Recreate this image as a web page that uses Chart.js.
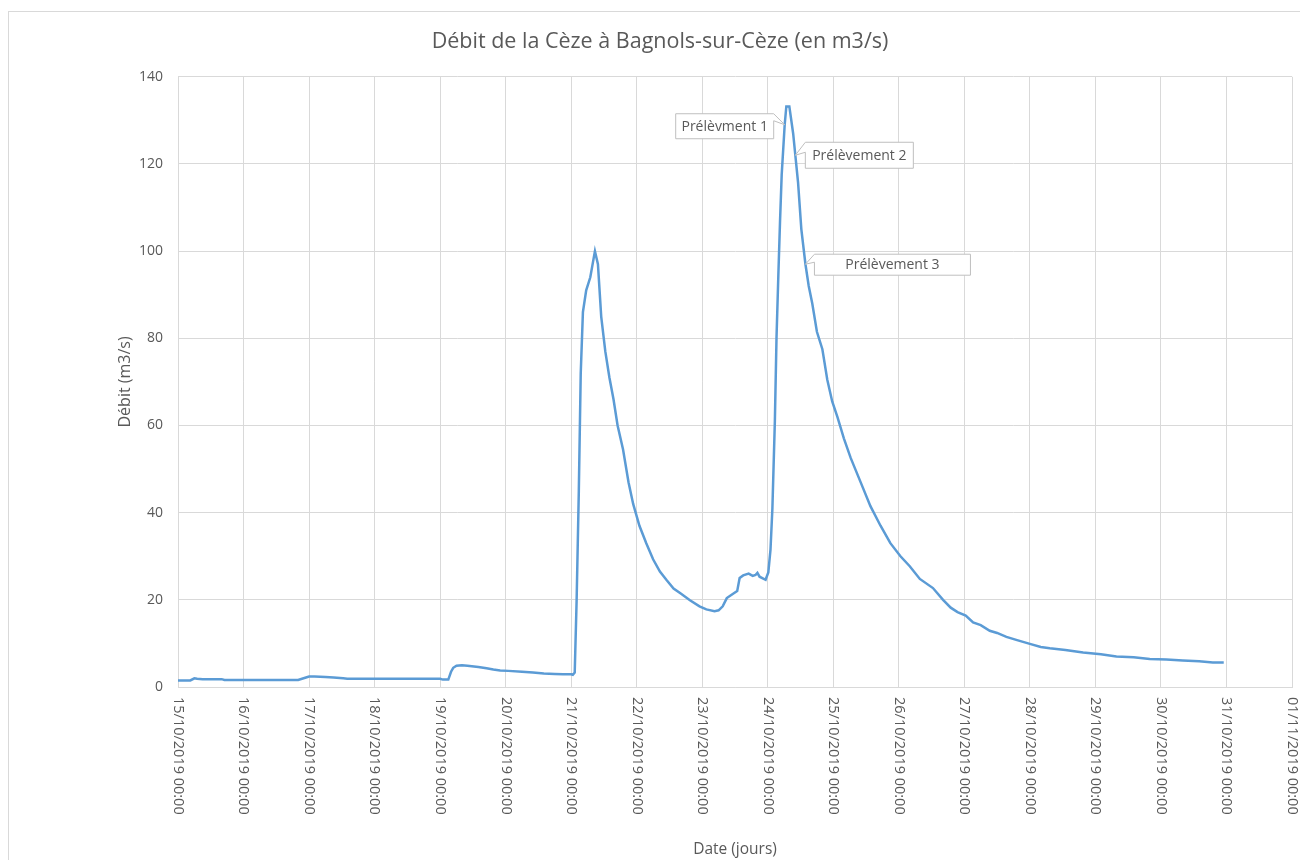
<!DOCTYPE html>
<html>
<head>
<meta charset="utf-8">
<script src="https://cdn.jsdelivr.net/npm/chart.js@4.4.1/dist/chart.umd.min.js"></script>
<style>
html,body{margin:0;padding:0;background:#fff;overflow:hidden;width:1300px;height:860px;}
#frame{position:absolute;left:8px;top:11px;width:1304px;height:860px;border:1px solid #d9d9d9;box-sizing:border-box;}
#wrap{position:absolute;left:9px;top:12px;width:1302px;height:848px;}
</style>
</head>
<body>
<div id="frame"></div>
<div id="wrap"><canvas id="c"></canvas></div>
<script>
// ---- DATA ----
const chartTitle = 'Débit de la Cèze à Bagnols-sur-Cèze (en m3/s)';
const xTitle = 'Date (jours)';
const yTitle = 'Débit (m3/s)';

// hours elapsed since 15/10/2019 00:00
const hours = [
  0, 3, 4.5, 6, 7, 9, 16, 17, 30, 44, 46, 48, 50, 54, 57, 60.5, 62, 96, 97, 99,
  100, 100.8, 102, 104, 106, 110, 113, 115.5, 118, 121, 126, 130, 134, 138, 141, 144, 144.6, 145.3,
  146, 146.8, 147.5, 148.3, 149.5, 151, 152.7, 153.8, 155, 156.5, 158, 159.5, 161, 163, 165, 166.7,
  169, 171.5, 174, 176.5, 179, 181.5, 184, 187.5, 191, 193.5, 196.5, 198, 199.5, 201, 203.3, 204.8,
  205.7, 207, 209, 210.5, 211.5, 212.2, 213, 215.2, 216.2, 217, 217.7, 218.6, 219.2, 219.9, 220.5,
  221.1, 222.2, 222.8, 223.9, 225.3, 226.1, 227.1, 228.3, 229.8, 231, 232.3, 234, 236, 237.8, 239.6,
  241.5, 243.9, 246.4, 250, 253.6, 257.3, 260.9, 264.6, 268, 271.7, 276.5, 280.2, 283, 285.5, 288.5,
  291.2, 294, 297.3, 300, 303.4, 307, 312, 316, 319.3, 325, 331.5, 338, 343.7, 350, 355.9, 362, 368,
  374, 379, 383
];
const flows = [
  1.5, 1.5, 1.5, 2.0, 1.9, 1.8, 1.8, 1.6, 1.6, 1.6, 2.0, 2.4, 2.4, 2.3, 2.2, 2.0, 1.9, 1.9, 1.7, 1.7,
  3.5, 4.4, 4.9, 5.0, 4.9, 4.6, 4.3, 4.0, 3.8, 3.7, 3.5, 3.3, 3.1, 3.0, 2.9, 2.9, 2.8, 3.3,
  20, 45, 72, 86, 91, 94, 100, 97, 85, 77, 71, 66, 60, 54.5, 47, 42,
  37, 33, 29.3, 26.5, 24.5, 22.6, 21.5, 19.9, 18.5, 17.8, 17.4, 17.6, 18.5, 20.4, 21.4, 22.0,
  25.0, 25.6, 26.0, 25.5, 25.7, 26.2, 25.3, 24.6, 26.3, 31.5, 41, 61, 80, 95, 107,
  117.5, 129, 133.2, 133.2, 127, 122, 115.7, 105, 97, 92, 88, 81.5, 77.5, 70.5, 65.5,
  62, 57, 52.5, 47, 41.5, 37, 33, 30, 27.7, 24.8, 22.7, 20, 18.2, 17.2, 16.4,
  14.8, 14.2, 12.9, 12.4, 11.5, 10.8, 9.9, 9.2, 8.9, 8.5, 7.9, 7.5, 7.0, 6.8, 6.4, 6.3, 6.1,
  5.9, 5.6, 5.6
];

// x tick labels (one per day, every 24 h)
const dayLabels = [
  '15/10/2019 00:00','16/10/2019 00:00','17/10/2019 00:00','18/10/2019 00:00','19/10/2019 00:00',
  '20/10/2019 00:00','21/10/2019 00:00','22/10/2019 00:00','23/10/2019 00:00','24/10/2019 00:00',
  '25/10/2019 00:00','26/10/2019 00:00','27/10/2019 00:00','28/10/2019 00:00','29/10/2019 00:00',
  '30/10/2019 00:00','31/10/2019 00:00','01/11/2019 00:00'
];

// sampling callouts
const sampleLabels = ['Prélèvment 1', 'Prélèvement 2', 'Prélèvement 3'];
const sampleHours = [222.2, 226.1, 229.8];
const sampleFlows = [129, 122, 97];

// ---- STYLE ----
const TEXT = '#595959';
const GRID = '#d9d9d9';
const FONT = "'Open Sans', 'Liberation Sans', sans-serif";

const pts = hours.map((h, i) => ({x: h, y: flows[i]}));

const xLabelPlugin = {
  id: 'xLabels',
  afterDraw(chart) {
    const sc = chart.scales.x, ctx = chart.ctx, area = chart.chartArea;
    ctx.save();
    ctx.fillStyle = TEXT;
    ctx.font = "14.5px " + FONT;
    ctx.textAlign = 'left';
    ctx.textBaseline = 'middle';
    sc.ticks.forEach(t => {
      const idx = Math.round(t.value / 24);
      const lbl = dayLabels[idx];
      if (lbl === undefined) return;
      const px = sc.getPixelForValue(t.value);
      ctx.save();
      ctx.translate(px, area.bottom + 10);
      ctx.rotate(Math.PI / 2);
      ctx.fillText(lbl, 0, 0);
      ctx.restore();
    });
    ctx.restore();
  }
};

// box geometry relative to the tip: [left, right, top, bottom, wedge side, wedge start, wedge end]
const calloutGeom = [
  [-109, -11, -11, 14, 'right', 0, 7],
  [10, 118, -13, 13, 'left', 0, 10],
  [9, 165, -10, 11, 'left', 0, 8]
];

const calloutPlugin = {
  id: 'callouts',
  afterDatasetsDraw(chart) {
    const ctx = chart.ctx, xs = chart.scales.x, ys = chart.scales.y;
    ctx.save();
    sampleLabels.forEach((lbl, i) => {
      const tx = xs.getPixelForValue(sampleHours[i]);
      const ty = ys.getPixelForValue(sampleFlows[i]);
      const g = calloutGeom[i];
      const L = tx + g[0], R = tx + g[1], T = ty + g[2], B = ty + g[3];
      ctx.beginPath();
      if (g[4] === 'right') {
        ctx.moveTo(L, T); ctx.lineTo(R, T);
        ctx.lineTo(R, T + g[5]); ctx.lineTo(tx, ty); ctx.lineTo(R, T + g[6]);
        ctx.lineTo(R, B); ctx.lineTo(L, B); ctx.closePath();
      } else {
        ctx.moveTo(L, T + g[5]); ctx.lineTo(L, T); ctx.lineTo(R, T); ctx.lineTo(R, B); ctx.lineTo(L, B);
        ctx.lineTo(L, T + g[6]); ctx.lineTo(tx, ty); ctx.closePath();
      }
      ctx.fillStyle = '#ffffff';
      ctx.fill();
      ctx.strokeStyle = '#bfbfbf';
      ctx.lineWidth = 1;
      ctx.stroke();
      ctx.fillStyle = TEXT;
      ctx.font = "14px " + FONT;
      ctx.textAlign = 'center';
      ctx.textBaseline = 'middle';
      ctx.fillText(lbl, (L + R) / 2, (T + B) / 2 + 0.5);
    });
    ctx.restore();
  }
};

new Chart(document.getElementById('c'), {
  type: 'line',
  data: {
    datasets: [{
      label: 'Débit',
      data: pts,
      borderColor: '#5b9bd5',
      backgroundColor: '#5b9bd5',
      borderWidth: 2.5,
      pointRadius: 0,
      tension: 0,
      fill: false
    }]
  },
  options: {
    responsive: true,
    maintainAspectRatio: false,
    animation: false,
    layout: {padding: {left: 19, right: 19, top: 0, bottom: 0}},
    plugins: {
      legend: {display: false},
      tooltip: {enabled: false},
      title: {
        display: true,
        text: chartTitle,
        color: TEXT,
        font: {family: FONT, size: 21.5, weight: 'normal'},
        padding: {top: 17, bottom: 22}
      }
    },
    scales: {
      x: {
        type: 'linear',
        min: 0,
        max: 408,
        ticks: {stepSize: 24, display: false},
        grid: {color: GRID, lineWidth: 1, drawTicks: false},
        border: {color: GRID, width: 1},
        title: {display: true, text: xTitle, color: TEXT, font: {family: FONT, size: 15.5}, padding: {top: 0, bottom: 1}},
        afterFit(scale) { scale.height = 173; }
      },
      y: {
        min: 0,
        max: 140,
        ticks: {stepSize: 20, color: TEXT, font: {family: FONT, size: 14}, padding: 15},
        grid: {color: GRID, lineWidth: 1, drawTicks: false},
        border: {color: GRID, width: 1},
        title: {display: true, text: yTitle, color: TEXT, font: {family: FONT, size: 16}, padding: {top: 87.4, bottom: 0}},
        afterFit(scale) { scale.width = 150; }
      }
    }
  },
  plugins: [xLabelPlugin, calloutPlugin]
});
</script>
</body>
</html>
